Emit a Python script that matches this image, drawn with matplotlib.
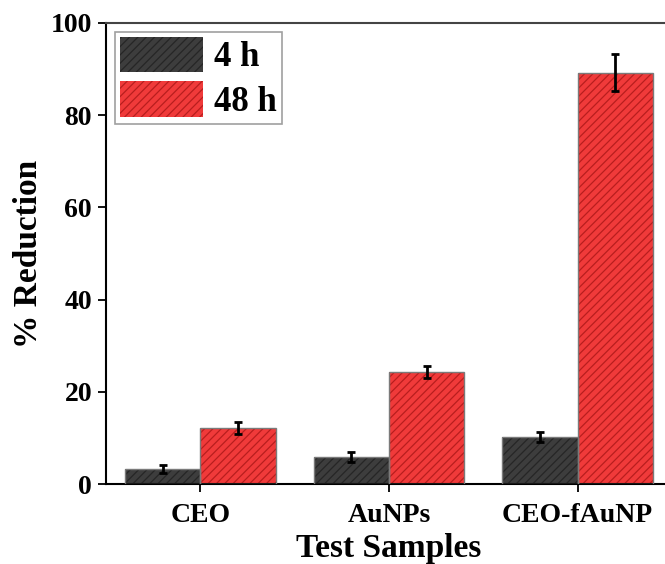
import matplotlib
matplotlib.use("Agg")
import matplotlib.pyplot as plt
import numpy as np

plt.rcParams['font.family'] = ['Liberation Serif', 'DejaVu Serif']
plt.rcParams['font.weight'] = 'bold'
plt.rcParams['hatch.linewidth'] = 0.9

categories = ["CEO", "AuNPs", "CEO-fAuNP"]
series_labels = ["4 h", "48 h"]
values_4h = [3.3, 5.8, 10.2]
errors_4h = [0.9, 1.1, 1.1]
values_48h = [12.2, 24.3, 89.2]
errors_48h = [1.3, 1.4, 4.0]
y_ticks = [0, 20, 40, 60, 80, 100]

fig = plt.figure(figsize=(6.65, 5.64), dpi=100)
ax = fig.add_axes([106 / 665, 80 / 564, 566 / 665, 461 / 564])

x = np.arange(len(categories))
w = 0.4

face_cols = ["#3d3d3d", "#f03a3a"]
hatch_cols = ["#262626", "#b81e1e"]
handles = []
for i, (vals, errs) in enumerate([(values_4h, errors_4h), (values_48h, errors_48h)]):
    pos = x - w / 2 + i * w
    b = ax.bar(pos, vals, width=w, color=face_cols[i], edgecolor=hatch_cols[i],
               hatch="////", linewidth=0, label=series_labels[i], zorder=2)
    ax.bar(pos, vals, width=w, fill=False, edgecolor="#7a7a7a", linewidth=1.0, zorder=3)
    ax.errorbar(pos, vals, yerr=errs, fmt="none", ecolor="black", elinewidth=2.0,
                capsize=3, capthick=2.0, zorder=4)
    handles.append(b)

ax.set_xlim(-0.5, 2.5)
ax.set_ylim(0, 100)
ax.set_yticks(y_ticks)
ax.set_xticks(x)
ax.set_xticklabels(categories)
ax.tick_params(axis="both", direction="out", length=6, width=1.3, labelsize=20, pad=4)
ax.tick_params(axis="x", pad=8)
for s in ax.spines.values():
    s.set_linewidth(1.5)
ax.spines["top"].set_color("#444444")

ax.set_ylabel("% Reduction", fontsize=24, fontweight="bold", labelpad=5)
ax.set_xlabel("Test Samples", fontsize=24, fontweight="bold", labelpad=3)

leg = ax.legend(handles=handles, loc="upper left", fontsize=25, frameon=True,
                fancybox=False, edgecolor="#888888", handlelength=2.4, handleheight=1.2,
                labelspacing=0.2, borderpad=0.15, handletextpad=0.3, borderaxespad=0.25)
leg.get_frame().set_linewidth(1.2)

fig.savefig("out.png", dpi=100)
